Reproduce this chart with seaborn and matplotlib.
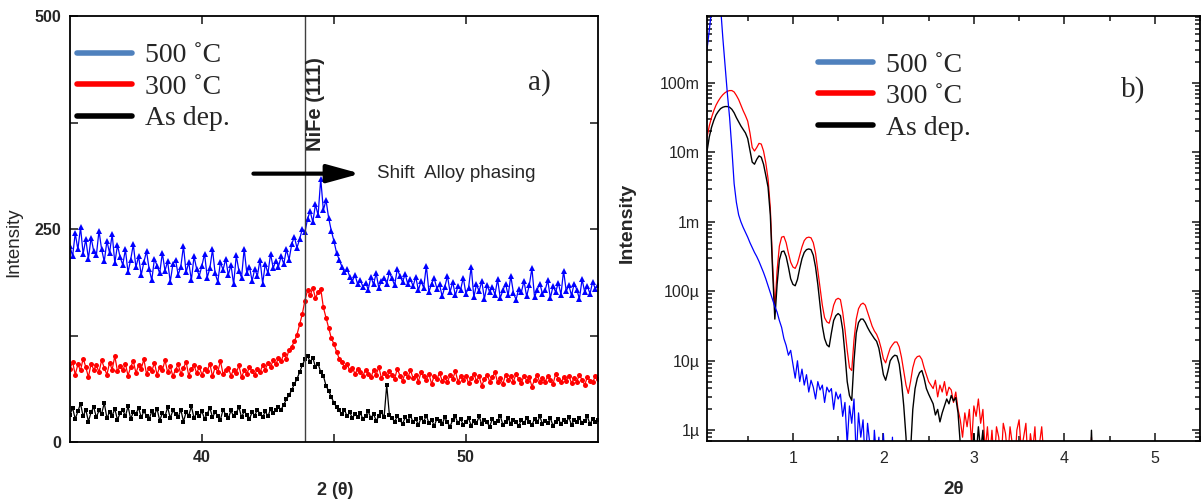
import numpy as np
import matplotlib
matplotlib.use("Agg")
import matplotlib.pyplot as plt
import seaborn as sns
from matplotlib.lines import Line2D
from matplotlib.ticker import FixedLocator, FixedFormatter, LogLocator, NullFormatter, MultipleLocator

sns.set_style("ticks")
plt.rcParams['font.family'] = ['Liberation Sans', 'DejaVu Sans']

# ---- a) XRD scan, 2theta from 35 to 55 deg, step 0.1
xrd_start, xrd_step = 35.0, 0.1
xrd_500 = [230, 218, 245, 226, 252, 221, 238, 215, 240, 224,
           219, 248, 226, 212, 236, 222, 244, 210, 231, 217,
           208, 226, 199, 214, 232, 205, 218, 196, 211, 224,
           203, 190, 215, 207, 198, 222, 201, 212, 188, 209,
           214, 196, 206, 230, 199, 211, 190, 218, 203, 195,
           207, 221, 193, 204, 226, 198, 188, 211, 202, 215,
           196, 208, 185, 219, 201, 193, 227, 198, 206, 189,
           203, 195, 214, 186, 209, 198, 221, 204, 213, 206,
           218, 209, 226, 214, 232, 241, 228, 238, 250, 246,
           262, 271, 258, 279, 266, 309, 272, 284, 263, 248,
           236, 222, 214, 206, 199, 203, 194, 189, 196, 185,
           190, 182, 187, 179, 194, 185, 198, 181, 189, 193,
           186, 199, 192, 184, 203, 195, 188, 197, 185, 191,
           183, 194, 178, 189, 181, 207, 176, 186, 192, 180,
           185, 171, 182, 195, 176, 188, 172, 183, 179, 193,
           174, 181, 206, 170, 185, 177, 189, 168, 184, 176,
           182, 173, 191, 169, 178, 186, 172, 195, 175, 167,
           180, 176, 189, 171, 184, 204, 170, 179, 186, 174,
           178, 190, 169, 183, 176, 187, 173, 201, 177, 184,
           172, 186, 179, 168, 191, 176, 183, 174, 188, 180,
           184]
xrd_300 = [86, 94, 79, 91, 84, 98, 88, 76, 92, 85,
           90, 82, 96, 87, 79, 93, 85, 101, 83, 89,
           84, 92, 78, 88, 95, 81, 90, 86, 97, 80,
           87, 83, 93, 79, 88, 84, 96, 82, 89, 77,
           85, 91, 80, 87, 94, 78, 86, 90, 81, 88,
           79, 86, 83, 92, 77, 88, 82, 95, 80, 84,
           87, 78, 85, 81, 90, 76, 84, 80, 88, 83,
           79, 86, 82, 90, 85, 93, 88, 96, 91, 99,
           95, 103, 98, 108, 112, 118, 126, 138, 150, 166,
           178, 172, 181, 169, 176, 180, 158, 146, 134, 122,
           115, 106, 98, 94, 88, 91, 84, 87, 80, 86,
           82, 78, 85, 80, 76, 84, 79, 88, 75, 81,
           77, 83, 79, 74, 86, 78, 72, 81, 76, 84,
           75, 79, 71, 82, 77, 73, 80, 68, 78, 74,
           81, 72, 76, 70, 79, 74, 83, 71, 77, 73,
           78, 69, 75, 80, 72, 77, 66, 74, 79, 71,
           76, 82, 70, 75, 68, 79, 73, 77, 71, 80,
           74, 69, 78, 72, 76, 65, 73, 79, 70, 75,
           71, 77, 73, 68, 80, 74, 70, 76, 72, 78,
           69, 75, 71, 79, 73, 67, 76, 72, 70, 77,
           74]
xrd_asdep = [32, 40, 27, 36, 45, 30, 38, 24, 35, 41,
             29, 37, 33, 46, 28, 35, 31, 39, 26, 34,
             38, 30, 42, 27, 35, 33, 40, 29, 36, 31,
             27, 36, 32, 39, 25, 34, 30, 41, 28, 37,
             33, 29, 38, 24, 35, 31, 42, 28, 34, 30,
             36, 27, 33, 40, 29, 35, 31, 26, 38, 32,
             28, 37, 30, 34, 41, 29, 36, 32, 27, 35,
             31, 38, 33, 29, 36, 30, 39, 34, 37, 41,
             38, 44, 50, 55, 61, 68, 74, 82, 90, 97,
             101, 94, 99, 88, 92, 82, 78, 66, 60, 53,
             46, 41, 37, 33, 38, 30, 35, 28, 33, 29,
             34, 27, 31, 36, 28, 33, 25, 30, 35, 29,
             67, 32, 28, 24, 30, 26, 21, 29, 25, 31,
             23, 27, 20, 28, 24, 31, 22, 26, 19, 27,
             25, 21, 29, 23, 18, 26, 30, 22, 27, 20,
             24, 28, 19, 25, 22, 30, 21, 26, 23, 18,
             27, 22, 25, 31, 20, 24, 28, 21, 26, 23,
             19, 26, 22, 28, 24, 20, 27, 23, 30, 21,
             25, 22, 28, 19, 24, 27, 21, 26, 23, 29,
             20, 26, 23, 28, 22, 25, 30, 21, 27, 24,
             26]
nife_peak = 43.9

# ---- b) XRR, log10(intensity), 2theta from 0.05 step 0.025 (-7 = below axis)
xrr_start, xrr_step = 0.05, 0.025
xrr_500 = [-0.52, -0.25, 0.05, 0.35, 0.50, 0.40, 0.10, -0.35, -0.75, -1.15,
           -1.50, -1.95, -2.45, -2.72, -2.90, -3.00, -3.08, -3.15, -3.22, -3.30,
           -3.37, -3.44, -3.50, -3.57, -3.65, -3.73, -3.82, -3.92, -4.02, -4.12,
           -4.22, -4.30, -4.42, -4.52, -4.68, -4.78, -4.92, -4.85, -5.05, -5.25,
           -5.00, -5.30, -5.12, -5.35, -5.20, -5.45, -5.28, -5.38, -5.55, -5.30,
           -5.42, -5.35, -5.60, -5.38, -5.45, -5.40, -5.70, -5.45, -5.55, -5.48,
           -5.80, -5.60, -6.20, -5.65, -5.90, -5.55, -6.40, -5.75, -6.10, -5.85,
           -6.50, -5.90, -6.20, -6.80, -6.00, -6.40, -6.10, -6.90, -6.05, -6.60,
           -6.20, -6.90, -6.10] + [-7.0] * 18 + [-6.15, -7.0, -7.0, -6.20, -7.0, -6.25] + [-7.0] * 68
xrr_300 = [-1.79, -1.62, -1.50, -1.40, -1.32, -1.26, -1.21, -1.17, -1.14, -1.12,
           -1.11, -1.11, -1.13, -1.18, -1.24, -1.32, -1.40, -1.47, -1.55, -1.72,
           -1.93, -1.98, -1.93, -1.87, -1.88, -1.98, -2.15, -2.38, -2.80, -3.60,
           -4.25, -3.70, -3.35, -3.22, -3.21, -3.30, -3.45, -3.58, -3.65, -3.67,
           -3.60, -3.48, -3.36, -3.27, -3.23, -3.22, -3.23, -3.30, -3.45, -3.70,
           -3.95, -4.20, -4.38, -4.44, -4.46, -4.35, -4.20, -4.12, -4.10, -4.12,
           -4.30, -4.55, -4.85, -5.10, -5.14, -4.70, -4.40, -4.25, -4.19, -4.17,
           -4.20, -4.30, -4.40, -4.50, -4.57, -4.62, -4.70, -4.82, -4.97, -5.03,
           -4.92, -4.82, -4.77, -4.73, -4.73, -4.80, -4.95, -5.15, -5.35, -5.47,
           -5.30, -5.10, -4.98, -4.94, -4.93, -4.98, -5.10, -5.20, -5.30, -5.35,
           -5.40, -5.28, -5.52, -5.35, -5.45, -5.30, -5.50, -5.38, -5.42, -5.60,
           -5.45, -5.70, -5.85, -6.10, -5.75, -5.95, -5.70, -6.20, -5.65, -5.80,
           -5.55, -5.90, -5.70, -6.30, -5.95, -6.40, -6.00, -6.50, -5.95, -6.10,
           -6.50, -5.90, -6.05, -6.40, -5.95, -6.20, -6.60, -6.00, -5.85, -6.30,
           -6.10, -5.90, -6.50, -6.05, -6.30, -5.95, -6.60, -6.20, -5.95, -6.40,
           -6.70] + [-7.0] * 19 + [-6.10] + [-7.0] * 4
xrr_asdep = [-1.99, -1.78, -1.64, -1.54, -1.46, -1.41, -1.37, -1.35, -1.34, -1.34,
             -1.35, -1.38, -1.43, -1.50, -1.56, -1.62, -1.67, -1.72, -1.80, -1.97,
             -2.14, -2.17, -2.10, -2.05, -2.07, -2.17, -2.33, -2.50, -2.90, -3.70,
             -4.40, -3.90, -3.55, -3.43, -3.42, -3.50, -3.65, -3.82, -3.90, -3.92,
             -3.83, -3.67, -3.53, -3.44, -3.40, -3.39, -3.40, -3.48, -3.65, -3.90,
             -4.20, -4.50, -4.68, -4.77, -4.80, -4.60, -4.42, -4.35, -4.32, -4.35,
             -4.55, -4.90, -5.30, -5.50, -5.57, -5.00, -4.60, -4.45, -4.40, -4.40,
             -4.45, -4.52, -4.58, -4.63, -4.68, -4.72, -4.82, -5.00, -5.20, -5.28,
             -5.15, -5.00, -4.95, -4.92, -4.93, -5.05, -5.30, -5.65, -6.10, -6.80,
             -6.30, -5.70, -5.40, -5.25, -5.17, -5.14, -5.25, -5.40, -5.48, -5.55,
             -5.62, -5.78, -5.70, -5.88, -5.75, -5.65, -5.55, -5.62, -5.50, -5.58,
             -5.53, -5.75, -6.20, -6.80, -6.60, -6.90, -6.20, -6.50, -6.05, -6.40,
             -5.95, -6.30, -6.00, -6.60, -6.20, -6.90] + [-7.0] * 32 + [-6.15] + [-7.0] * 11 + [-6.00] + [-7.0] * 4

labels = ["500 \u02daC", "300 \u02daC", "As dep."]
line_colors = ["#0000ff", "#ff0000", "#000000"]
legend_colors = ["#4f81bd", "#ff0000", "#000000"]
xrd_markers = ["^", "o", "s"]
log_ticks = [1e-6, 1e-5, 1e-4, 1e-3, 1e-2, 1e-1]
log_tick_labels = ["1\u00b5", "10\u00b5", "100\u00b5", "1m", "10m", "100m"]

fig = plt.figure(figsize=(12.04, 5.04), dpi=100)
ax1 = fig.add_axes([0.0581, 0.1230, 0.4385, 0.8452])
ax2 = fig.add_axes([0.5872, 0.1250, 0.4095, 0.8433])

# ---- panel a
x_xrd = xrd_start + xrd_step * np.arange(len(xrd_500))
for vals, col, mk, ms in zip([xrd_500, xrd_300, xrd_asdep], line_colors, xrd_markers, [4.6, 3.6, 3.0]):
    sns.lineplot(x=x_xrd, y=np.array(vals), ax=ax1, color=col, marker=mk, markersize=ms,
                 markeredgewidth=0, linewidth=0.9, estimator=None, sort=False)
ax1.axvline(nife_peak, color="#404040", lw=1.0)
ax1.set_xlim(35, 55)
ax1.set_ylim(0, 500)
ax1.xaxis.set_major_locator(FixedLocator([40, 45, 50]))
ax1.xaxis.set_major_formatter(FixedFormatter(["40", "", "50"]))
ax1.yaxis.set_major_locator(FixedLocator([0, 125, 250, 375, 500]))
ax1.yaxis.set_major_formatter(FixedFormatter(["0", "", "250", "", "500"]))
ax1.tick_params(which="both", direction="in", top=True, right=True, length=6, width=1.2,
                labelsize=11.5, pad=6)
for t in ax1.get_xticklabels() + ax1.get_yticklabels():
    t.set_fontweight("bold")
ax1.set_xlabel("2 (\u03b8)", fontsize=13, fontweight="bold")
ax1.set_ylabel("Intensity", fontsize=13.5)
ax1.xaxis.label.set_va("center")
ax1.yaxis.label.set_va("center")
ax1.xaxis.set_label_coords(0.502, -0.113)
ax1.yaxis.set_label_coords(-0.106, 0.47)
ax1.text(44.3, 397, "NiFe (111)", rotation=90, ha="center", va="center",
         fontsize=14.5, fontweight="bold")
ax1.annotate("", xy=(46.0, 315), xytext=(41.95, 315),
             arrowprops=dict(arrowstyle="-|>,head_length=0.8,head_width=0.22", lw=3,
                             color="black", mutation_scale=25, shrinkA=0, shrinkB=0))
ax1.text(46.64, 315, "Shift  Alloy phasing", va="center", fontsize=13.5)
ax1.text(0.867, 0.843, "a)", transform=ax1.transAxes, va="center",
         fontsize=21, family="Liberation Serif")

# ---- panel b
ax2.set_yscale("log")
x_xrr = xrr_start + xrr_step * np.arange(len(xrr_300))
for vals, col, lw in zip([xrr_300, xrr_asdep, xrr_500], [line_colors[1], line_colors[2], line_colors[0]],
                         [0.9, 1.0, 0.9]):
    sns.lineplot(x=x_xrr, y=10.0 ** np.array(vals), ax=ax2, color=col, linewidth=lw,
                 estimator=None, sort=False)
ax2.set_xlim(0.05, 5.5)
ax2.set_ylim(7e-7, 0.92)
ax2.xaxis.set_major_locator(MultipleLocator(1))
ax2.xaxis.set_minor_locator(MultipleLocator(0.5))
ax2.yaxis.set_major_locator(FixedLocator(log_ticks))
ax2.yaxis.set_major_formatter(FixedFormatter(log_tick_labels))
ax2.yaxis.set_minor_locator(LogLocator(subs=np.arange(2, 10)))
ax2.yaxis.set_minor_formatter(NullFormatter())
ax2.tick_params(which="both", direction="in", top=True, right=True, width=1.2, labelsize=11.5)
ax2.tick_params(which="major", length=6)
ax2.tick_params(which="minor", length=3.5)
ax2.tick_params(axis="x", pad=7)
ax2.tick_params(axis="y", pad=5)
ax2.set_xlabel("2\u03b8", fontsize=13.5, fontweight="bold")
ax2.set_ylabel("Intensity", fontsize=14, fontweight="bold")
ax2.xaxis.label.set_va("center")
ax2.yaxis.label.set_va("center")
ax2.xaxis.set_label_coords(0.5, -0.115)
ax2.yaxis.set_label_coords(-0.162, 0.513)
ax2.text(0.84, 0.826, "b)", transform=ax2.transAxes, va="center",
         fontsize=21, family="Liberation Serif")

for ax in (ax1, ax2):
    for s in ax.spines.values():
        s.set_linewidth(1.3)
        s.set_color("black")

handles = [Line2D([0], [0], color=c, lw=4) for c in legend_colors]
for ax, anchor in ((ax1, (0.013, 0.937)), (ax2, (0.225, 0.915))):
    ax.legend(handles, labels, loc="upper left", bbox_to_anchor=anchor, frameon=False,
              prop={"family": "Liberation Serif", "size": 20}, handlelength=2.0,
              handletextpad=0.45, labelspacing=0.22, borderpad=0, borderaxespad=0)

fig.savefig("out.png", dpi=100)
